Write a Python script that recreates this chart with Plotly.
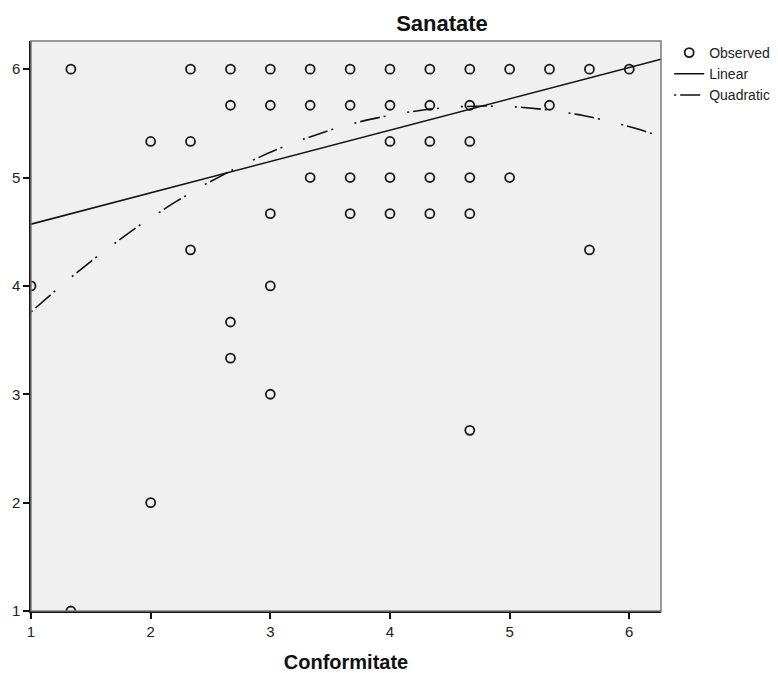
import numpy as np
import plotly.graph_objects as go

# Observed data (Conformitate, Sanatate)
conformitate = [1.333, 2.333, 2.667, 3.0, 3.333, 3.667, 4.0, 4.333, 4.667, 5.0, 5.333, 5.667, 6.0,
                2.667, 3.0, 3.333, 3.667, 4.0, 4.333, 4.667, 5.333,
                2.0, 2.333, 4.0, 4.333, 4.667,
                3.333, 3.667, 4.0, 4.333, 4.667, 5.0,
                3.0, 3.667, 4.0, 4.333, 4.667,
                2.333, 5.667,
                1.0, 3.0,
                2.667, 2.667, 3.0, 4.667, 2.0, 1.333]
sanatate = [6.0] * 13 + [5.667] * 8 + [5.333] * 5 + [5.0] * 6 + [4.667] * 5 + \
           [4.333] * 2 + [4.0] * 2 + [3.667, 3.333, 3.0, 2.667, 2.0, 1.0]

# Fitted model coefficients (intercept, b1, b2)
linear_coef = [4.281, 0.289]
quad_coef = [2.628, 1.2634, -0.1316]

x_range = [1.0, 6.265]
y_range = [1.0, 6.26]
x_ticks = [1, 2, 3, 4, 5, 6]
y_ticks = [1, 2, 3, 4, 5, 6]

xfit = np.linspace(x_range[0], x_range[1], 200)
lin_fit = linear_coef[0] + linear_coef[1] * xfit
quad_fit = quad_coef[0] + quad_coef[1] * xfit + quad_coef[2] * xfit ** 2

FONT = "Liberation Sans, Arial, sans-serif"

# page body has an 8px default margin; size the figure so it fits the window
W, H = 770, 665

fig = go.Figure()
fig.add_trace(go.Scatter(
    x=conformitate, y=sanatate, mode="markers", name="Observed",
    marker=dict(symbol="circle-open", size=9, color="#1a1a1a", line=dict(width=1.8, color="#1a1a1a")),
    cliponaxis=True,
))
fig.add_trace(go.Scatter(
    x=xfit, y=lin_fit, mode="lines", name="Linear",
    line=dict(color="#111111", width=1.6),
))
fig.add_trace(go.Scatter(
    x=xfit, y=quad_fit, mode="lines", name="Quadratic",
    line=dict(color="#111111", width=1.6, dash="2px,4px,20px,4px,2px,22px"),
))

fig.add_shape(type="rect", xref="x domain", yref="y domain", x0=0, x1=1, y0=0, y1=1,
              line=dict(color="#7a7a7a", width=1.5), layer="above")

fig.update_layout(
    width=W, height=H,
    margin=dict(l=23, r=117, t=33, b=62, autoexpand=False),
    paper_bgcolor="white", plot_bgcolor="#F0F0F0",
    font=dict(family=FONT, color="#222222", size=15),
    title=dict(text="<b>Sanatate</b>", x=434 / W, xref="container", xanchor="center",
               y=1 - 15 / H, yref="container", yanchor="middle",
               font=dict(family=FONT, size=22, color="#111111")),
    showlegend=True,
    legend=dict(x=1.013, xanchor="left", y=1.007, yanchor="top", bgcolor="rgba(0,0,0,0)",
                font=dict(family=FONT, size=14, color="#222222"), tracegroupgap=0,
                itemwidth=30),
    xaxis=dict(range=x_range, tickvals=x_ticks, showgrid=False, zeroline=False, automargin=False,
               showline=True, linecolor="#111111", linewidth=1.5,
               ticks="outside", ticklen=6, tickwidth=1.5, tickcolor="#111111",
               tickfont=dict(size=15, color="#222222"),
               title=dict(text="<b>Conformitate</b>", font=dict(size=20, color="#111111"), standoff=16)),
    yaxis=dict(range=y_range, tickvals=y_ticks, showgrid=False, zeroline=False, automargin=False,
               showline=True, linecolor="#111111", linewidth=1.5,
               ticks="outside", ticklen=6, tickwidth=1.5, tickcolor="#111111",
               tickfont=dict(size=15, color="#222222"), ticklabelstandoff=0),
)

fig.write_html("out.html")
